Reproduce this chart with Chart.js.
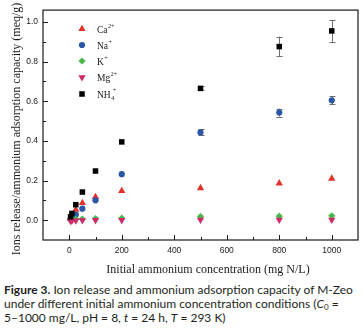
<!DOCTYPE html>
<html><head><meta charset="utf-8">
<script src="https://cdn.jsdelivr.net/npm/chart.js@4"></script>
<style>
html,body{margin:0;padding:0;background:#fff;width:364px;height:333px;overflow:hidden}
#wrap{position:absolute;left:0;top:0;width:364px;height:280px}
#cap{position:absolute;left:4px;top:283px;font-family:Lato,"Noto Sans",sans-serif;font-size:12px;line-height:14px;color:#231f20;white-space:nowrap}
#cap sub{font-size:8px;vertical-align:-2px;line-height:0}
</style></head><body>
<div id="wrap"><canvas id="c" width="364" height="280"></canvas></div>
<div id="cap"><b>Figure 3.</b> Ion release and ammonium adsorption capacity of M-Zeo<br>under different initial ammonium concentration conditions (<i>C</i><sub>0</sub> =<br>5–1000 mg/L, pH = 8, <i>t</i> = 24 h, <i>T</i> = 293 K)</div>
<script>
// ---- data ----
const concentrations = [5, 10, 25, 50, 100, 200, 500, 800, 1000];
const caValues  = [0.008, 0.020, 0.053, 0.087, 0.117, 0.148, 0.162, 0.186, 0.210];
const naValues  = [0.005, 0.012, 0.028, 0.058, 0.100, 0.232, 0.443, 0.543, 0.605];
const kValues   = [0.003, 0.004, 0.005, 0.006, 0.008, 0.010, 0.018, 0.020, 0.022];
const mgValues  = [-0.004, -0.003, -0.002, -0.001, 0.000, 0.000, 0.002, 0.002, 0.002];
const nh4Values = [0.017, 0.034, 0.078, 0.142, 0.248, 0.395, 0.665, 0.876, 0.955];
const nh4Errors = [0, 0, 0, 0, 0, 0, 0.010, 0.050, 0.055];
const naErrors  = [0, 0, 0, 0, 0, 0, 0.015, 0.020, 0.020];
const xTickLabels = [0, 200, 400, 600, 800, 1000];
const yTickLabels = [0.0, 0.2, 0.4, 0.6, 0.8, 1.0];
const seriesNames = [["Ca","2+",""],["Na","+",""],["K","+",""],["Mg","2+",""],["NH","+","4"]];

const pts = arr => concentrations.map((x,i)=>({x:x,y:arr[i]}));
const serif = '"Liberation Serif","Times New Roman",serif';
const sans = '"Liberation Sans",Arial,sans-serif';

const styles = [
  {color:'#e4302a', pointStyle:'triangle', radius:4.2, rotation:0},
  {color:'#2a56a6', pointStyle:'circle', radius:3.1, rotation:0},
  {color:'#48b84c', pointStyle:'rectRot', radius:3.6, rotation:0},
  {color:'#d12a68', pointStyle:'triangle', radius:4.2, rotation:180},
  {color:'#000000', pointStyle:'rect', radius:3.9, rotation:0}
];
const valueSets = [caValues, naValues, kValues, mgValues, nh4Values];
const orders = [4, 3, 2, 1, 0];

const datasets = valueSets.map((v,i)=>({
  label: seriesNames[i][0],
  data: pts(v),
  showLine:false,
  order: orders[i],
  pointStyle: styles[i].pointStyle,
  pointRadius: styles[i].radius,
  pointRotation: styles[i].rotation,
  pointBackgroundColor: styles[i].color,
  pointBorderColor: styles[i].color,
  pointBorderWidth: 0,
  pointHoverRadius: styles[i].radius
}));

const deco = {
  id:'deco',
  beforeDatasetsDraw(chart){
    const ctx = chart.ctx, xs = chart.scales.x, ys = chart.scales.y;
    ctx.save();
    ctx.strokeStyle = '#6e6e6e'; ctx.lineWidth = 1;
    const bars = [[nh4Values, nh4Errors],[naValues, naErrors]];
    bars.forEach(([vals, errs])=>{
      concentrations.forEach((c,i)=>{
        if(!errs[i]) return;
        const px = Math.round(xs.getPixelForValue(c))+0.5;
        const y1 = ys.getPixelForValue(vals[i]+errs[i]);
        const y2 = ys.getPixelForValue(vals[i]-errs[i]);
        ctx.beginPath();
        ctx.moveTo(px, y1); ctx.lineTo(px, y2);
        ctx.moveTo(px-3, Math.round(y1)+0.5); ctx.lineTo(px+3, Math.round(y1)+0.5);
        ctx.moveTo(px-3, Math.round(y2)+0.5); ctx.lineTo(px+3, Math.round(y2)+0.5);
        ctx.stroke();
      });
    });
    ctx.restore();
  },
  afterDraw(chart){
    const ctx = chart.ctx, a = chart.chartArea, xs = chart.scales.x, ys = chart.scales.y;
    ctx.save();
    ctx.strokeStyle = '#1a1a1a'; ctx.lineWidth = 1.2;
    ctx.strokeRect(a.left, a.top, a.right-a.left, a.bottom-a.top);
    ctx.lineWidth = 1;
    ctx.beginPath();
    xs.ticks.forEach(t=>{
      const v = t.value;
      if (v <= xs.min || v >= xs.max) return;
      const major = Math.round(v) % 200 === 0;
      const px = Math.round(xs.getPixelForValue(v))+0.5;
      const len = major ? 5 : 3;
      ctx.moveTo(px, a.bottom); ctx.lineTo(px, a.bottom-len);
    });
    ys.ticks.forEach(t=>{
      const v = t.value;
      if (v <= ys.min + 1e-9 || v >= ys.max - 1e-9) return;
      const major = Math.round(v*10) % 2 === 0;
      const py = Math.round(ys.getPixelForValue(v))+0.5;
      const len = major ? 5 : 3;
      ctx.moveTo(a.left, py); ctx.lineTo(a.left+len, py);
    });
    ctx.stroke();

    // axis titles
    ctx.fillStyle = '#1a1a1a';
    ctx.font = '12px ' + serif;
    ctx.textAlign = 'center'; ctx.textBaseline = 'alphabetic';
    ctx.fillText('Initial ammonium concentration (mg N/L)', 208, 273);
    ctx.save();
    ctx.translate(19.5, 129);
    ctx.rotate(-Math.PI/2);
    ctx.fillText('Ions release/ammonium adsorption capacity (meq/g)', 0, 0);
    ctx.restore();

    // legend
    const lx = 82, tx = 97, rows = [29, 45, 61, 77.3, 94];
    seriesNames.forEach((n,i)=>{
      const st = styles[i];
      ctx.fillStyle = st.color; ctx.strokeStyle = st.color;
      Chart.helpers.drawPoint(ctx, {pointStyle:st.pointStyle, radius:st.radius, rotation:st.rotation, borderWidth:0}, lx, rows[i]);
      ctx.fillStyle = '#1a1a1a';
      ctx.textAlign = 'left'; ctx.textBaseline = 'alphabetic';
      ctx.font = '9.5px ' + serif;
      const base = rows[i] + 3.5;
      ctx.fillText(n[0], tx, base);
      const w = ctx.measureText(n[0]).width;
      ctx.font = '6px ' + serif;
      if (n[2]) {
        ctx.fillText(n[2], tx + w + 0.5, base + 2.5);
        ctx.fillText(n[1], tx + w + 2, base - 5.5);
      } else {
        ctx.fillText(n[1], tx + w + 0.5, base - 4.5);
      }
    });
    ctx.restore();
  }
};

new Chart(document.getElementById('c'), {
  type:'scatter',
  data:{datasets:datasets},
  options:{
    responsive:false,
    animation:false,
    events:[],
    layout:{padding:{left:0,right:5,top:9,bottom:0}},
    plugins:{legend:{display:false}, tooltip:{enabled:false}},
    scales:{
      x:{
        type:'linear', min:-100, max:1100,
        grid:{display:false, drawTicks:false},
        border:{display:false},
        afterFit(s){ s.height = 40; },
        ticks:{
          stepSize:100, includeBounds:false, padding:6, color:'#1a1a1a', maxRotation:0, autoSkip:false,
          font:{family:sans, size:8.5},
          callback:v => xTickLabels.includes(Math.round(v)) && Math.abs(v-Math.round(v))<1e-6 ? String(Math.round(v)) : ''
        }
      },
      y:{
        type:'linear', min:-0.1, max:1.06,
        grid:{display:false, drawTicks:false},
        border:{display:false},
        afterFit(s){ s.width = 43; },
        ticks:{
          stepSize:0.1, includeBounds:false, padding:5, color:'#1a1a1a', autoSkip:false,
          font:{family:sans, size:8.5},
          callback:v => {
            const k = Math.round(v*10);
            if (Math.abs(v*10-k) > 1e-6) return '';
            const lab = yTickLabels.find(t => Math.round(t*10) === k);
            return lab === undefined ? '' : lab.toFixed(1);
          }
        }
      }
    }
  },
  plugins:[deco]
});
</script>
</body></html>
